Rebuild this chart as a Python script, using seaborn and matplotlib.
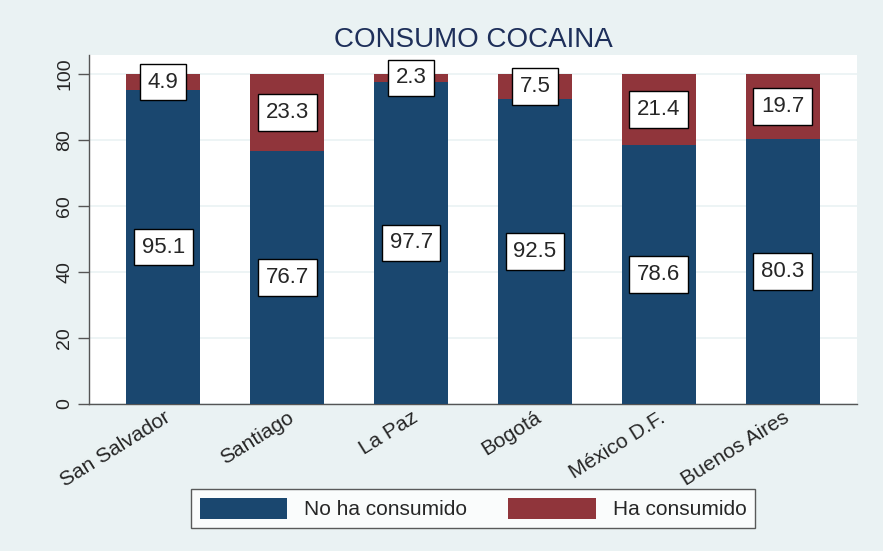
import pandas as pd
import matplotlib
matplotlib.use("Agg")
import matplotlib.pyplot as plt
import seaborn as sns

# --- Datos --- #
ciudades = ["San Salvador", "Santiago", "La Paz", "Bogotá", "México D.F.", "Buenos Aires"]
no_consumido = [95.1, 76.7, 97.7, 92.5, 78.6, 80.3]
ha_consumido = [4.9, 23.3, 2.3, 7.5, 21.4, 19.7]

AZUL = "#1a476f"
ROJO = "#90353b"
FONDO = "#eaf2f3"

df = pd.DataFrame({"ciudad": ciudades, "no": no_consumido, "si": ha_consumido})
df["total"] = df["no"] + df["si"]

sns.set_style("white")
plt.rcParams["font.family"] = ["Liberation Sans", "DejaVu Sans"]

fig = plt.figure(figsize=(8.83, 5.51), dpi=100, facecolor=FONDO)
ax = fig.add_axes([0.1008, 0.2668, 0.8698, 0.6334])
ax.set_facecolor("white")

# barras apiladas: total en rojo, luego azul encima
sns.barplot(data=df, x="ciudad", y="total", color=ROJO, saturation=1, width=0.6,
            ax=ax, label="Ha consumido", zorder=2, linewidth=0)
sns.barplot(data=df, x="ciudad", y="no", color=AZUL, saturation=1, width=0.6,
            ax=ax, label="No ha consumido", zorder=3, linewidth=0)

# etiquetas en cajas
caja = dict(boxstyle="square,pad=0.35", facecolor="white", edgecolor="black", linewidth=1)
for i, row in df.iterrows():
    ax.text(i, row["no"] / 2, f"{row['no']:.1f}", ha="center", va="center",
            fontsize=16, bbox=caja, zorder=5)
    ax.text(i, row["no"] + row["si"] / 2, f"{row['si']:.1f}", ha="center", va="center",
            fontsize=16, bbox=caja, zorder=5)

ax.set_xlim(-0.6, 5.6)
ax.set_ylim(0, 105.8)
ax.set_yticks([0, 20, 40, 60, 80, 100])
ax.yaxis.grid(True, color=FONDO, linewidth=1.2, zorder=0)
ax.set_axisbelow(True)
ax.set_xlabel("")
ax.set_ylabel("")

for lado in ["top", "right"]:
    ax.spines[lado].set_visible(False)
for lado in ["left", "bottom"]:
    ax.spines[lado].set_color("#555555")
    ax.spines[lado].set_linewidth(1)

ax.tick_params(axis="y", length=8, width=1, color="#555555", labelsize=14, direction="out", left=True)
ax.tick_params(axis="x", length=0, labelsize=15, pad=3)
for t in ax.get_yticklabels():
    t.set_rotation(90)
    t.set_va("center")
plt.setp(ax.get_xticklabels(), rotation=32, ha="right", rotation_mode="anchor")

ax.set_title("CONSUMO COCAINA", fontsize=20, color="#1e2f5a", pad=6)

handles, labels = ax.get_legend_handles_labels()
orden = [labels.index("No ha consumido"), labels.index("Ha consumido")]
leg = ax.legend([handles[k] for k in orden], [labels[k] for k in orden],
                loc="upper center", bbox_to_anchor=(0.5, -0.215), ncol=2, frameon=True,
                fancybox=False, edgecolor="#333333", fontsize=15, handlelength=4.2,
                handleheight=1.2, columnspacing=2.0, borderpad=0.4)
leg.get_frame().set_linewidth(1)

fig.savefig("out.png", dpi=100, facecolor=FONDO)
